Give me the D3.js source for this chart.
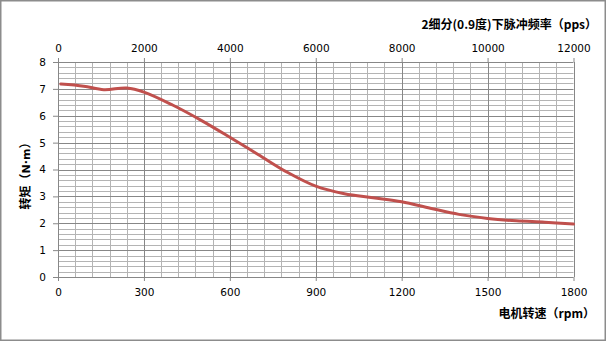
<!DOCTYPE html>
<html>
<head>
<meta charset="utf-8">
<script src="https://cdn.jsdelivr.net/npm/d3@7"></script>
<style>
  body { margin: 0; background: #fff; }
  .tick text { font-family: "DejaVu Sans", sans-serif; font-size: 10.5px; fill: #000; }
  .axisTitle { font-family: "Noto Sans CJK SC", sans-serif; font-size: 12px; font-weight: bold; fill: #000; }
</style>
</head>
<body>
<div id="chart"></div>
<script>
// motor speed (rpm) vs torque (N·m)
var speedRpm = [10, 90, 160, 240, 300, 400, 500, 600, 700, 800, 900, 1000, 1100, 1200, 1300, 1400, 1500, 1600, 1700, 1800];
var torqueNm = [7.18, 7.1, 6.97, 7.03, 6.88, 6.4, 5.83, 5.2, 4.55, 3.9, 3.38, 3.1, 2.95, 2.8, 2.56, 2.33, 2.18, 2.09, 2.04, 1.97];

var rpmTicks = [0, 300, 600, 900, 1200, 1500, 1800];
var ppsTicks = [0, 2000, 4000, 6000, 8000, 10000, 12000];
var torqueTicks = [0, 1, 2, 3, 4, 5, 6, 7, 8];

var svgWidth = 606;
var svgHeight = 341;
var margin = { top: 62, right: 33, bottom: 64, left: 58 };
var chartWidth = 573.5 - margin.left;
var chartHeight = 277 - margin.top;

var svg = d3.select("#chart")
  .append("svg")
  .attr("width", svgWidth)
  .attr("height", svgHeight);

// outer frame
svg.append("rect")
  .attr("x", 0.75).attr("y", 0.75)
  .attr("width", svgWidth - 1.5).attr("height", svgHeight - 1.5)
  .attr("fill", "#fff")
  .attr("stroke", "#8c8c8c")
  .attr("stroke-width", 1.5);

var chartGroup = svg.append("g")
  .attr("transform", "translate(" + margin.left + "," + margin.top + ")");

var xScale = d3.scaleLinear().domain([0, 1800]).range([0, chartWidth]);
var xTopScale = d3.scaleLinear().domain([0, 12000]).range([0, chartWidth]);
var yScale = d3.scaleLinear().domain([0, 8]).range([chartHeight, 0]);

// minor grid: every 60 rpm and every 0.2 N·m
var minorX = d3.range(0, 1800.1, 60).filter(function (d) { return d % 300 !== 0; });
var minorY = d3.range(0, 40).map(function (d) { return d * 0.2; }).filter(function (d, i) { return i % 5 !== 0; });

chartGroup.selectAll(".minorX")
  .data(minorX)
  .enter().append("line")
  .attr("x1", function (d) { return Math.round(xScale(d)) + 0.5; })
  .attr("x2", function (d) { return Math.round(xScale(d)) + 0.5; })
  .attr("y1", 0).attr("y2", chartHeight)
  .attr("stroke", "#b4b4b4");

chartGroup.selectAll(".minorY")
  .data(minorY)
  .enter().append("line")
  .attr("y1", function (d) { return Math.round(yScale(d)) + 0.5; })
  .attr("y2", function (d) { return Math.round(yScale(d)) + 0.5; })
  .attr("x1", 0).attr("x2", chartWidth)
  .attr("stroke", "#b4b4b4");

// major grid
chartGroup.selectAll(".majorX")
  .data(rpmTicks)
  .enter().append("line")
  .attr("x1", function (d) { return Math.round(xScale(d)) + 0.5; })
  .attr("x2", function (d) { return Math.round(xScale(d)) + 0.5; })
  .attr("y1", 0).attr("y2", chartHeight)
  .attr("stroke", "#878787");

chartGroup.selectAll(".majorY")
  .data(torqueTicks)
  .enter().append("line")
  .attr("y1", function (d) { return Math.round(yScale(d)) + 0.5; })
  .attr("y2", function (d) { return Math.round(yScale(d)) + 0.5; })
  .attr("x1", 0).attr("x2", chartWidth)
  .attr("stroke", "#878787");

// axes
var fmt = d3.format("d");
var bottomAxis = d3.axisBottom(xScale).tickValues(rpmTicks).tickFormat(fmt).tickSize(4).tickPadding(8);
var topAxis = d3.axisTop(xTopScale).tickValues(ppsTicks).tickFormat(fmt).tickSize(4).tickPadding(6);
var leftAxis = d3.axisLeft(yScale).tickValues(torqueTicks).tickFormat(fmt).tickSize(5).tickPadding(7);

function styleAxis(g) {
  g.select(".domain").remove();
  g.selectAll(".tick line").attr("stroke", "#878787");
}

chartGroup.append("g")
  .attr("transform", "translate(0," + chartHeight + ")")
  .call(bottomAxis).call(styleAxis);
chartGroup.append("g").call(topAxis).call(styleAxis);
chartGroup.append("g").call(leftAxis).call(styleAxis);

// torque curve
var points = speedRpm.map(function (d, i) { return [d, torqueNm[i]]; });
var line = d3.line()
  .x(function (d) { return xScale(d[0]); })
  .y(function (d) { return yScale(d[1]); })
  .curve(d3.curveCatmullRom.alpha(0.5));

chartGroup.append("path")
  .datum(points)
  .attr("d", line)
  .attr("fill", "none")
  .attr("stroke", "#c0504d")
  .attr("stroke-width", 3)
  .attr("stroke-linecap", "round");

// titles
svg.append("text")
  .attr("class", "axisTitle")
  .attr("x", 597).attr("y", 28.5)
  .attr("text-anchor", "end")
  .text("2细分(0.9度)下脉冲频率（pps）");

svg.append("text")
  .attr("class", "axisTitle")
  .attr("x", 595).attr("y", 317.5)
  .attr("text-anchor", "end")
  .text("电机转速（rpm）");

var yTitle = svg.append("text")
  .attr("class", "axisTitle")
  .attr("transform", "translate(29.5,173) rotate(-90)")
  .attr("text-anchor", "middle");
yTitle.append("tspan").text("转矩（");
yTitle.append("tspan").style("font-family", "DejaVu Sans").style("font-size", "11px").text("N·m");
yTitle.append("tspan").text("）");
</script>
</body>
</html>
